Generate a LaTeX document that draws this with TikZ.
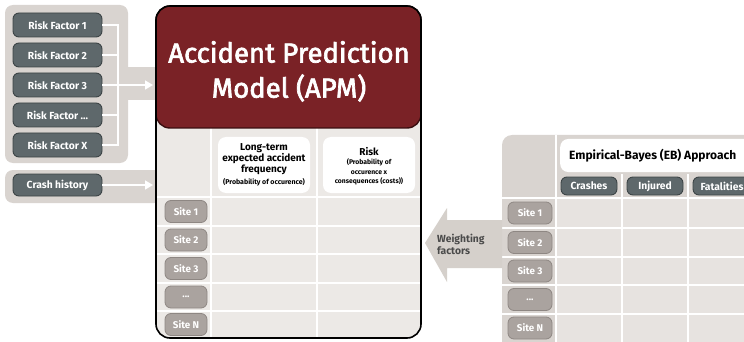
\documentclass[tikz,border=0pt]{standalone}
\usepackage{fontspec}
\setmainfont{Fira Sans}
\newfontfamily\titlefont[FakeBold=2.5]{Fira Sans}
\usetikzlibrary{arrows.meta}
\definecolor{panelgray}{HTML}{D9D4D0}
\definecolor{darkfill}{HTML}{5E686B}
\definecolor{darkline}{HTML}{3C4446}
\definecolor{apmred}{HTML}{7A2226}
\definecolor{apmredline}{HTML}{3A0E10}
\definecolor{tablebg}{HTML}{ECE9E6}
\definecolor{sitefill}{HTML}{AAA39F}
\definecolor{siteline}{HTML}{8E8783}
\definecolor{ebcell}{HTML}{E7E3E0}
\definecolor{arrowgray}{HTML}{D5D0CB}
\definecolor{wtext}{HTML}{4A4A4A}
\tikzset{
  darkbox/.style={draw=darkline, line width=0.9pt, fill=darkfill, rounded corners=6pt,
    minimum width=89pt, minimum height=24pt, text=white, font=\bfseries\fontsize{10.3}{11}\selectfont, inner sep=1pt},
  sitebox/.style={draw=siteline, line width=0.8pt, fill=sitefill, rounded corners=6pt,
    minimum width=42pt, minimum height=22pt, text=white, font=\bfseries\fontsize{9.8}{10}\selectfont, inner sep=1pt},
  card/.style={fill=white, rounded corners=8pt},
  wline/.style={draw=white, line width=1.6pt},
  grid/.style={draw=white, line width=1.5pt},
}
\begin{document}
\begin{tikzpicture}[x=1pt,y=-1pt]
\clip (0,0) rectangle (744,342);
\fill[white] (0,0) rectangle (744,342);
% left panels
\fill[panelgray, rounded corners=8pt] (5,5) rectangle (128,163);
\fill[panelgray] (120,67) rectangle (158,100);
\fill[panelgray, rounded corners=8pt] (5,170) rectangle (162,203);
% risk factors
\node[darkbox] (rf1) at (57.5,25) {Risk Factor 1};
\node[darkbox] (rf2) at (57.5,55) {Risk Factor 2};
\node[darkbox] (rf3) at (57.5,85) {Risk Factor 3};
\node[darkbox] (rf4) at (57.5,115) {Risk Factor ...};
\node[darkbox] (rf5) at (57.5,145) {Risk Factor X};
\node[darkbox, minimum height=22pt] (ch) at (57.5,185) {Crash history};
\coordinate (bus) at (118,85);
\coordinate (in1) at (153,85);
\coordinate (in2) at (153,185);
\draw[wline] (rf1.east) -| (bus);
\draw[wline] (rf2.east) -| (bus);
\draw[wline] (rf4.east) -| (bus);
\draw[wline] (rf5.east) -| (bus);
\draw[wline, -{Triangle[width=9pt,length=8pt]}] (rf3.east) -- (in1);
\draw[wline, -{Triangle[width=9pt,length=8pt]}] (ch.east) -- (in2);
% APM box
\fill[tablebg, rounded corners=14pt] (156,6) rectangle (421,338);
\draw[grid] (211,128) -- (211,338);
\draw[grid] (317,128) -- (317,338);
\foreach \yy in {197,226,254,283,311} \draw[grid] (156,\yy) -- (421,\yy);
\draw[fill=apmred, draw=apmredline, line width=1.4pt, rounded corners=14pt] (156,6) rectangle (421,128);
\node[text=white, font=\titlefont\fontsize{27.5}{30}\selectfont] (t1) at (289,52) {Accident Prediction};
\node[text=white, font=\titlefont\fontsize{27.5}{30}\selectfont] (t2) at (289,88) {Model (APM)};
\node[card, minimum width=92pt, minimum height=56pt] (c1) at (264,165) {};
\node[card, minimum width=92pt, minimum height=56pt] (c2) at (369,165) {};
\node[align=center, font=\bfseries\fontsize{10}{11}\selectfont, inner sep=0pt] (c1t) at (264,159) {Long-term\\expected accident\\frequency};
\node[font=\bfseries\fontsize{7}{7}\selectfont, inner sep=0pt] (c1s) at (264,182) {(Probability of occurence)};
\node[font=\bfseries\fontsize{10}{11}\selectfont, inner sep=0pt] (c2t) at (369,151.5) {Risk};
\node[align=center, font=\bfseries\fontsize{6.8}{9.2}\selectfont, inner sep=0pt] (c2s) at (369,172) {(Probability of\\occurence x\\consequences (costs))};
\node[sitebox] (s1) at (186,211.5) {Site 1};
\node[sitebox] (s2) at (186,240) {Site 2};
\node[sitebox] (s3) at (186,268.5) {Site 3};
\node[sitebox] (s4) at (186,297) {...};
\node[sitebox] (s5) at (186,324.5) {Site N};
\draw[draw=black, line width=1.6pt, rounded corners=14pt] (156,6) rectangle (421,338);
% EB panel
\fill[panelgray, rounded corners=10pt] (502,135) rectangle (770,360);
\fill[ebcell] (556,198) rectangle (770,360);
\draw[grid] (556,135) -- (556,342);
\draw[grid] (622,174) -- (622,342);
\draw[grid] (688,174) -- (688,342);
\foreach \yy in {198,228,257,285,314} \draw[grid] (502,\yy) -- (770,\yy);
\node[card, minimum width=200pt, minimum height=33pt, anchor=west] (ebc) at (560,155.5) {};
\node[anchor=west, font=\bfseries\fontsize{12}{13}\selectfont, inner sep=0pt] (ebt) at (569,156) {Empirical-Bayes (EB) Approach};
\node[darkbox, minimum width=56pt, minimum height=18pt] (cr) at (589,186) {Crashes};
\node[darkbox, minimum width=56pt, minimum height=18pt] (inj) at (655,186) {Injured};
\node[darkbox, minimum width=58pt, minimum height=18pt] (fat) at (722,186) {Fatalities};
\node[sitebox, minimum width=44pt] (e1) at (530,213) {Site 1};
\node[sitebox, minimum width=44pt] (e2) at (530,242.5) {Site 2};
\node[sitebox, minimum width=44pt] (e3) at (530,271) {Site 3};
\node[sitebox, minimum width=44pt] (e4) at (530,299.5) {...};
\node[sitebox, minimum width=44pt] (e5) at (530,328) {Site N};
% weighting arrow
\fill[arrowgray] (502,220) -- (447,220) -- (447,208) -- (425,243) -- (447,282) -- (447,268) -- (502,268) -- cycle;
\node[anchor=west, align=left, text=wtext, font=\bfseries\fontsize{10.3}{12}\selectfont, inner sep=0pt] (wf) at (437,244) {Weighting\\factors};
\end{tikzpicture}
\end{document}
